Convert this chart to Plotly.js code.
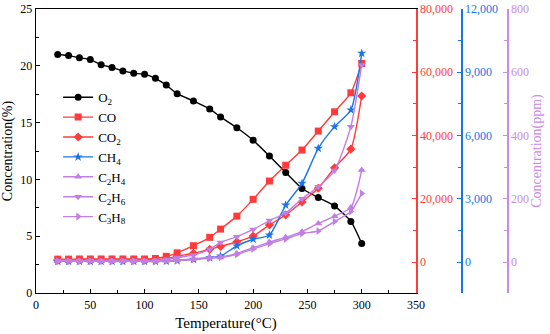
<!DOCTYPE html>
<html>
<head>
<meta charset="utf-8">
<script src="https://cdn.plot.ly/plotly-3.0.1.min.js"></script>
<style>html,body{margin:0;padding:0;background:#fff;}#chart{width:550px;height:334px;}</style>
</head>
<body>
<div id="chart"></div>
<script>
// Temperature (°C)
const temperature = [20,30,40,50,60,70,80,90,100,110,120,130,145,160,170,185,200,215,230,245,260,275,290,300];
// O2 (%), left axis
const o2 = [21.0,20.9,20.7,20.55,20.1,19.85,19.55,19.35,19.25,18.9,18.3,17.55,16.9,16.2,15.5,14.55,13.45,12.05,10.6,9.2,8.4,7.65,6.3,4.35];
// CO, CO2 (ppm), red axis
const co  = [900,900,950,950,950,950,950,950,950,1100,1800,2900,5150,7800,10400,14500,19800,25600,30600,35400,41400,47500,53500,62800];
const co2 = [600,600,650,650,650,650,650,650,650,700,1000,1800,2750,4000,4900,6400,8200,11700,14900,19000,23300,29800,35700,52500];
// CH4 (ppm), blue axis
const ch4 = [30,30,30,30,30,30,30,30,30,30,40,60,130,200,290,760,1080,1280,2700,3730,5390,6420,7210,9900];
// C2H4, C2H6, C3H8 (ppm), purple axis
const c2h4 = [3,3,3,3,3,3,3,3,3,3,4,6,10,14,16,27,45,63,78,96,122,145,172,291];
const c2h6 = [4,4,4,4,4,4,4,4,4,5,8,14,22,40,62,80,103,131,155,200,238,289,428,623];
const c3h8 = [2,2,2,2,2,2,2,2,2,2,3,5,8,12,14,24,41,58,73,90,98,128,160,217];

const names = ['O<sub>2</sub>','CO','CO<sub>2</sub>','CH<sub>4</sub>','C<sub>2</sub>H<sub>4</sub>','C<sub>2</sub>H<sub>6</sub>','C<sub>3</sub>H<sub>8</sub>'];

const RED = '#ff3b3b', BLUE = '#1a73e8', PURPLE = '#c27ee3', PURPLE_AX = '#c98be8';
const FONT = 'Liberation Serif, Times New Roman, serif';

function tr(y, name, color, symbol, yaxis) {
  return {
    x: temperature, y: y, name: name, yaxis: yaxis,
    type: 'scatter', mode: 'lines+markers',
    line: {color: color, width: 1.4, shape: 'spline', smoothing: 0.6},
    marker: {color: color, symbol: symbol, size: 7}
  };
}

const data = [
  tr(o2,  names[0], '#000000', 'circle', 'y'),
  tr(co,  names[1], RED, 'square', 'y2'),
  tr(co2, names[2], RED, 'diamond', 'y2'),
  tr(ch4, names[3], BLUE, 'star', 'y3'),
  tr(c2h4, names[4], PURPLE, 'triangle-up', 'y4'),
  tr(c2h6, names[5], PURPLE, 'triangle-down', 'y4'),
  tr(c3h8, names[6], PURPLE, 'triangle-right', 'y4')
];

const W = 471; // paper width in px
const layout = {
  width: 550, height: 334,
  margin: {l: 36, r: 43, t: 9, b: 41},
  paper_bgcolor: '#fff', plot_bgcolor: '#fff',
  font: {family: FONT, size: 12, color: '#000'},
  showlegend: true,
  legend: {
    x: 0.047, y: 0.742, xanchor: 'left', yanchor: 'top',
    bgcolor: 'rgba(0,0,0,0)', font: {family: FONT, size: 13, color: '#000'},
    tracegroupgap: 0
  },
  xaxis: {
    domain: [0, 380 / W], range: [0, 350],
    dtick: 50, tick0: 0, ticks: 'inside', ticklen: 4, tickcolor: '#000',
    minor: {ticks: 'inside', ticklen: 3, dtick: 25, tickcolor: '#000'},
    showline: true, linecolor: '#000', linewidth: 1.3, mirror: true,
    showgrid: false, zeroline: false,
    tickfont: {family: FONT, size: 12, color: '#000'},
    title: {text: 'Temperature(°C)', font: {family: FONT, size: 15, color: '#000'}, standoff: 6}
  },
  yaxis: {
    range: [0, 25], dtick: 5, tick0: 0,
    ticks: 'inside', ticklen: 4, tickcolor: '#000',
    minor: {ticks: 'inside', ticklen: 3, dtick: 2.5, tickcolor: '#000'},
    showline: true, linecolor: '#000', linewidth: 1.3,
    showgrid: false, zeroline: false,
    tickfont: {family: FONT, size: 12, color: '#000'},
    title: {text: 'Concentration(%)', font: {family: FONT, size: 14, color: '#000'}, standoff: 4}
  },
  yaxis2: {
    overlaying: 'y', side: 'right', anchor: 'x',
    range: [-9802, 80000], dtick: 20000, tick0: 0, tickformat: ',d',
    ticks: 'inside', ticklen: 4, tickcolor: RED,
    minor: {ticks: 'inside', ticklen: 3, dtick: 10000, tick0: 0, tickcolor: RED},
    showline: true, linecolor: RED, linewidth: 1.5,
    showgrid: false, zeroline: false,
    tickfont: {family: FONT, size: 12, color: RED}
  },
  yaxis3: {
    overlaying: 'y', side: 'right', anchor: 'free', position: (461 - 36) / W,
    range: [-1470, 12000], dtick: 3000, tick0: 0, tickformat: ',d',
    ticks: 'inside', ticklen: 4, tickcolor: BLUE,
    minor: {ticks: 'inside', ticklen: 3, dtick: 1500, tick0: 0, tickcolor: BLUE},
    showline: true, linecolor: BLUE, linewidth: 1.5,
    showgrid: false, zeroline: false,
    tickfont: {family: FONT, size: 12, color: BLUE}
  },
  yaxis4: {
    overlaying: 'y', side: 'right', anchor: 'free', position: 1,
    range: [-98, 800], dtick: 200, tick0: 0,
    ticks: 'inside', ticklen: 4, tickcolor: PURPLE_AX,
    minor: {ticks: 'inside', ticklen: 3, dtick: 100, tick0: 0, tickcolor: PURPLE_AX},
    showline: true, linecolor: PURPLE_AX, linewidth: 1.5,
    showgrid: false, zeroline: false,
    tickfont: {family: FONT, size: 12, color: PURPLE_AX},
    title: {text: 'Concentration(ppm)', font: {family: FONT, size: 14, color: PURPLE_AX}, standoff: 2}
  }
};

Plotly.newPlot('chart', data, layout, {displayModeBar: false, staticPlot: true});
</script>
</body>
</html>
